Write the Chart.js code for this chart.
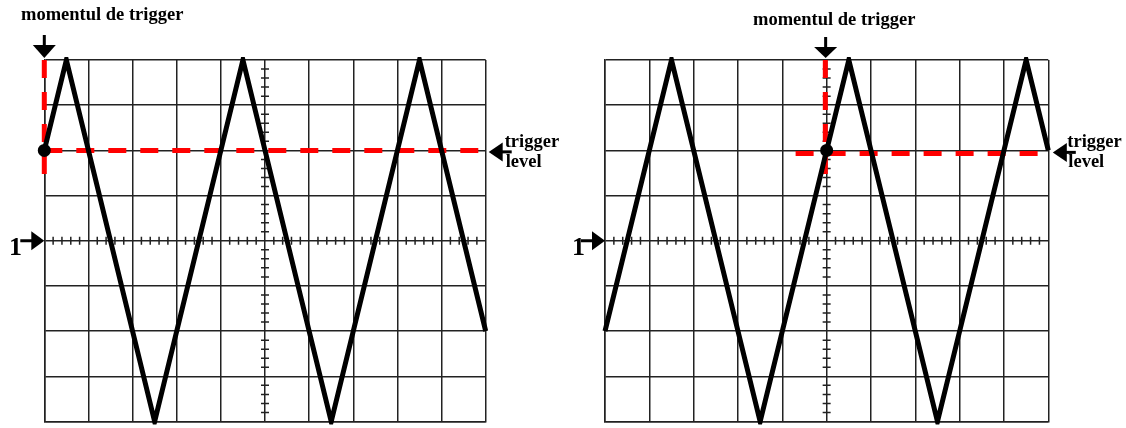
<!DOCTYPE html>
<html>
<head>
<meta charset="utf-8">
<script src="https://cdn.jsdelivr.net/npm/chart.js@4/dist/chart.umd.min.js"></script>
<style>
  html, body { margin: 0; padding: 0; background: #fff; }
  #wrap { position: relative; width: 1126px; height: 428px; overflow: hidden; }
  canvas { position: absolute; top: 0; }
  #left { left: 0; }
  #right { left: 563px; }
</style>
</head>
<body>
<div id="wrap">
  <canvas id="left" width="563" height="428"></canvas>
  <canvas id="right" width="563" height="428"></canvas>
</div>
<script>
// screen is 10 x 8 divisions, centre at (5, 0)
const leftTimes = [0, 0.5, 2.5, 4.5, 6.5, 8.5, 10]
const leftVolts = [2, 4, -4, 4, -4, 4, -2]
const rightTimes = [0, 1.5, 3.5, 5.5, 7.5, 9.5, 10]
const rightVolts = [-2, 4, -4, 4, -4, 4, 2]

const leftLevelX = [0, 10]
const leftLevelY = [2, 2]
const leftMomentX = [0, 0]
const leftMomentY = [4, 1.4]
const leftTrigger = [0, 2]

const rightLevelX = [4.3, 10]
const rightLevelY = [1.93, 1.93]
const rightMomentX = [4.97, 4.97]
const rightMomentY = [4, 1.45]
const rightTrigger = [5, 2]

const momentLabel = "momentul de trigger"
const levelLabel = ["trigger", "level"]
const channelLabel = "1"

const GRID = "#222"
const RED = "#ff0000"
const SERIF = "'Liberation Serif', 'Times New Roman', serif"

const pts = (xs, ys) => xs.map((x, i) => ({ x, y: ys[i] }))

const scopeDecor = {
  id: "scopeDecor",
  beforeDatasetsDraw(chart) {
    // minor ticks on the two centre axes
    const { ctx } = chart
    const xs = chart.scales.x
    const ys = chart.scales.y
    const cx = xs.getPixelForValue(5)
    const cy = ys.getPixelForValue(0)
    ctx.save()
    ctx.strokeStyle = GRID
    ctx.lineWidth = 1.5
    ctx.beginPath()
    for (let i = 1; i < 50; i++) {
      if (i % 5 === 0) continue
      const px = xs.getPixelForValue(i / 5)
      ctx.moveTo(px, cy - 4)
      ctx.lineTo(px, cy + 4)
    }
    for (let i = -19; i < 20; i++) {
      if (i % 5 === 0) continue
      const py = ys.getPixelForValue(i / 5)
      ctx.moveTo(cx - 4, py)
      ctx.lineTo(cx + 4, py)
    }
    ctx.stroke()
    ctx.restore()
  },
  afterDraw(chart, args, opts) {
    const { ctx, chartArea } = chart
    const xs = chart.scales.x
    const ys = chart.scales.y
    ctx.save()
    ctx.fillStyle = "#000"

    // down arrow: trigger moment
    const ax = xs.getPixelForValue(opts.momentAt) + opts.arrowShift
    const top = opts.arrowTop
    ctx.fillRect(ax - 1.5, top, 3, 11)
    ctx.beginPath()
    ctx.moveTo(ax - 11.5, top + 10)
    ctx.lineTo(ax + 11.5, top + 10)
    ctx.lineTo(ax, chartArea.top - 2)
    ctx.closePath()
    ctx.fill()

    ctx.font = "bold 18.5px " + SERIF
    ctx.textBaseline = "alphabetic"
    ctx.fillText(momentLabel, opts.textX, opts.textY)

    // left-pointing arrow: trigger level
    const ly = ys.getPixelForValue(2) + opts.levelShift
    const tip = chartArea.right + opts.levelGap
    ctx.beginPath()
    ctx.moveTo(tip, ly)
    ctx.lineTo(tip + 14, ly - 9.5)
    ctx.lineTo(tip + 14, ly + 9.5)
    ctx.closePath()
    ctx.fill()
    ctx.fillRect(tip + 12, ly - 1.5, 11, 3)
    ctx.fillText(levelLabel[0], chartArea.right + 19, 147)
    ctx.fillText(levelLabel[1], chartArea.right + 20, 167)

    // channel 1 ground marker
    const gy = ys.getPixelForValue(0)
    const gx = chartArea.left
    ctx.beginPath()
    ctx.moveTo(gx, gy)
    ctx.lineTo(gx - 13, gy - 9.5)
    ctx.lineTo(gx - 13, gy + 9.5)
    ctx.closePath()
    ctx.fill()
    ctx.fillRect(gx - 24, gy - 1.5, 12, 3)
    ctx.font = "bold 26px " + SERIF
    ctx.fillText(channelLabel, 9, gy + 14)
    ctx.restore()
  }
}

function makeScope(id, times, volts, levelX, levelY, momentX, momentY, trig, pad, decor) {
  return new Chart(document.getElementById(id), {
    type: "line",
    data: {
      datasets: [
        { data: [{ x: trig[0], y: trig[1] }], showLine: false, pointRadius: 6.5,
          pointBackgroundColor: "#000", pointBorderWidth: 0, order: 0, clip: false },
        { data: pts(times, volts), borderColor: "#000", borderWidth: 5,
          borderJoinStyle: "miter", pointRadius: 0, tension: 0, order: 1, clip: 3 },
        { data: pts(levelX, levelY), borderColor: RED, borderWidth: 5,
          borderDash: [18, 14], pointRadius: 0, order: 2, clip: false },
        { data: pts(momentX, momentY), borderColor: RED, borderWidth: 5,
          borderDash: [18, 14], pointRadius: 0, order: 2, clip: false }
      ]
    },
    options: {
      responsive: false,
      animation: false,
      events: [],
      layout: { padding: pad },
      plugins: { legend: { display: false }, tooltip: { enabled: false }, scopeDecor: decor },
      scales: {
        x: {
          type: "linear", min: 0, max: 10,
          ticks: { display: false, stepSize: 1 },
          grid: { color: GRID, lineWidth: 1.5, drawTicks: false },
          border: { color: GRID, width: 1.5 }
        },
        y: {
          type: "linear", min: -4, max: 4,
          ticks: { display: false, stepSize: 1 },
          grid: { color: GRID, lineWidth: 1.5, drawTicks: false },
          border: { color: GRID, width: 1.5 }
        }
      }
    },
    plugins: [scopeDecor]
  })
}

makeScope("left", leftTimes, leftVolts, leftLevelX, leftLevelY, leftMomentX, leftMomentY, leftTrigger,
  { left: 44.3, right: 77.3, top: 60, bottom: 1.5 },
  { momentAt: 0, arrowShift: 0, arrowTop: 35, textX: 21, textY: 20, levelShift: 1.5, levelGap: 3 })

makeScope("right", rightTimes, rightVolts, rightLevelX, rightLevelY, rightMomentX, rightMomentY, rightTrigger,
  { left: 42, right: 77.7, top: 60, bottom: 1.5 },
  { momentAt: 5, arrowShift: -1, arrowTop: 37, textX: 190, textY: 25, levelShift: 2, levelGap: 4.5 })
</script>
</body>
</html>
